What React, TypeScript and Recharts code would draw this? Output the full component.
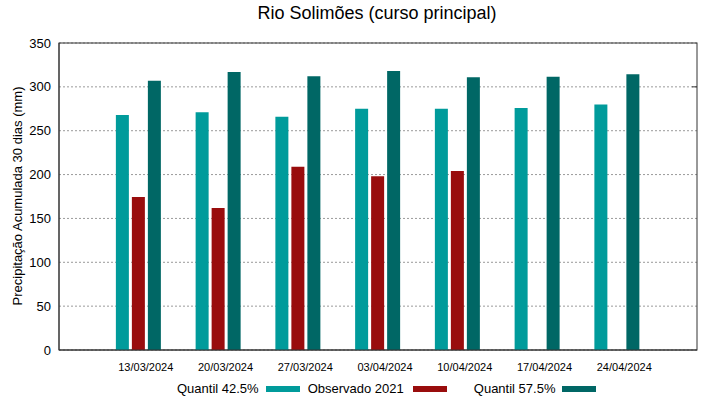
import React from 'react';
import * as R from 'recharts';
import { BarChart, Bar, XAxis, YAxis, CartesianGrid, Legend } from 'recharts';

const dates = ['13/03/2024', '20/03/2024', '27/03/2024', '03/04/2024', '10/04/2024', '17/04/2024', '24/04/2024'];
const quantil425 = [268, 271, 266, 275, 275, 276, 280];
const observado2021: (number | null)[] = [174.5, 162, 209, 198, 204, null, null];
const quantil575 = [307, 317, 312, 318, 311, 311.5, 314.5];
const yTicks = [0, 50, 100, 150, 200, 250, 300, 350];

const C1 = '#009b9b';
const C2 = '#990d0d';
const C3 = '#006765';

const data = dates.map((d, i) => ({
  date: d,
  q425: quantil425[i],
  obs: observado2021[i],
  q575: quantil575[i],
}));

const FONT = '"Liberation Sans", Arial, sans-serif';

const XTick = (props: any) => {
  const { x, y, payload } = props;
  return (
    <text x={x + 7} y={y} dy="0.71em" textAnchor="middle" fontSize={11} fill="#000" fontFamily={FONT}>
      {payload.value}
    </text>
  );
};

const PlotBox = () => {
  const hook: any = (R as any).usePlotArea || (R as any).useOffset;
  const area = hook ? hook() : null;
  if (!area) return null;
  const x = area.x ?? area.left;
  const y = area.y ?? area.top;
  const w = area.width;
  const h = area.height;
  return (
    <g>
      <rect x={x} y={y} width={w} height={h} fill="none" stroke="#333" strokeWidth={1} />
      <line x1={x + w} x2={x + w - 5} y1={y + h * (50 / 350)} y2={y + h * (50 / 350)} stroke="#333" />
    </g>
  );
};

const LegendContent = () => {
  const items = [
    { label: 'Quantil 42.5%', color: C1, gap: 7, after: 8 },
    { label: 'Observado 2021', color: C2, gap: 9, after: 27 },
    { label: 'Quantil 57.5%', color: C3, gap: 7, after: 0 },
  ];
  return (
    <div style={{ display: 'flex', alignItems: 'center', paddingLeft: 177, fontFamily: FONT, fontSize: 13, color: '#000', height: 21 }}>
      {items.map((it) => (
        <div key={it.label} style={{ display: 'flex', alignItems: 'center', marginRight: it.after }}>
          <span style={{ whiteSpace: 'nowrap' }}>{it.label}</span>
          <span style={{ display: 'inline-block', width: 34, height: 6, background: it.color, marginLeft: it.gap }} />
        </div>
      ))}
    </div>
  );
};

export default function App() {
  return (
    <div style={{ position: 'absolute', left: 0, top: 0, width: 719, height: 399, background: '#fff', fontFamily: FONT }}>
      <div style={{ position: 'absolute', left: 0, top: 3, width: 754, textAlign: 'center', fontSize: 18, color: '#000' }}>
        Rio Solimões (curso principal)
      </div>
      <BarChart
        width={719}
        height={399}
        data={data}
        margin={{ top: 43, right: 22, left: 0, bottom: 0 }}
        barSize={13}
        barGap={3}
      >
        <CartesianGrid vertical={false} horizontal stroke="#9a9a9a" strokeDasharray="2 2" />
        <XAxis
          dataKey="date"
          height={28}
          padding={{ left: 39.875, right: 39.875 }}
          tickLine={false}
          tickSize={0}
          tickMargin={13}
          tick={<XTick />}
          axisLine={{ stroke: '#333' }}
          interval={0}
        />
        <YAxis
          width={59}
          domain={[0, 350]}
          ticks={yTicks}
          tickLine={false}
          tickSize={0}
          tickMargin={8}
          tick={{ fontSize: 13, fill: '#000', fontFamily: FONT }}
          axisLine={{ stroke: '#333' }}
          label={() => (
            <text
              x={17}
              y={196}
              transform="rotate(-90 17 196)"
              textAnchor="middle"
              dominantBaseline="central"
              fontSize={13}
              fill="#000"
              fontFamily={FONT}
            >
              Precipitação Acumulada 30 dias (mm)
            </text>
          )}
        />
        <Legend verticalAlign="bottom" height={21} content={<LegendContent />} />
        <Bar dataKey="q425" name="Quantil 42.5%" fill={C1} isAnimationActive={false} />
        <Bar dataKey="obs" name="Observado 2021" fill={C2} isAnimationActive={false} />
        <Bar dataKey="q575" name="Quantil 57.5%" fill={C3} isAnimationActive={false} />
        <PlotBox />
      </BarChart>
    </div>
  );
}
